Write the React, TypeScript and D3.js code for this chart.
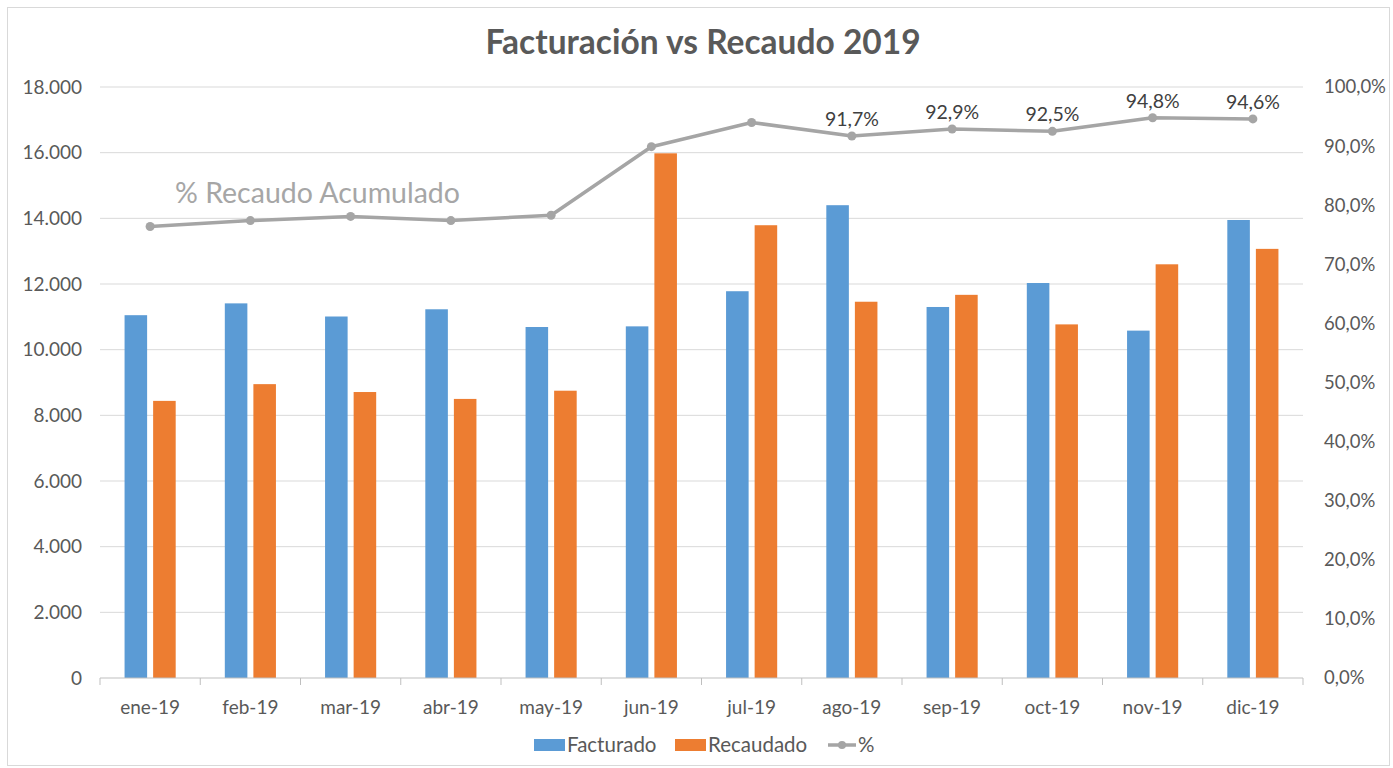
import React from "react";
import * as d3 from "d3";

const months = ["ene-19","feb-19","mar-19","abr-19","may-19","jun-19","jul-19","ago-19","sep-19","oct-19","nov-19","dic-19"];
const facturado = [11050, 11410, 11010, 11230, 10690, 10710, 11780, 14400, 11300, 12030, 10580, 13950];
const recaudado = [8440, 8950, 8710, 8500, 8750, 15980, 13790, 11460, 11670, 10770, 12600, 13070];
const pct = [76.4, 77.4, 78.1, 77.4, 78.3, 89.9, 94.0, 91.7, 92.9, 92.5, 94.8, 94.6];
const pctLabels = ["", "", "", "", "", "", "", "91,7%", "92,9%", "92,5%", "94,8%", "94,6%"];
const leftTicks = [0, 2000, 4000, 6000, 8000, 10000, 12000, 14000, 16000, 18000];
const rightTicks = [0, 10, 20, 30, 40, 50, 60, 70, 80, 90, 100];

const FONT = "Lato, 'Open Sans', sans-serif";
const TXT = "#595959";

export default function App() {
  const W = 1393, H = 768;
  const x0 = 100, x1 = 1303, yTop = 87, yBot = 678;
  const x = d3.scaleBand<string>().domain(months).range([x0, x1]).paddingInner(0).paddingOuter(0);
  const yL = d3.scaleLinear().domain([0, 18000]).range([yBot, yTop]);
  const yR = d3.scaleLinear().domain([0, 100]).range([yBot, yTop]);
  const step = x.step();
  const bw = step * 0.225;
  const gap = step * 0.06;
  const fmtL = (v: number) => v === 0 ? "0" : d3.format(",")(v).replace(/,/g, ".");
  const fmtR = (v: number) => v.toFixed(1).replace(".", ",") + "%";
  const cx = (m: string) => (x(m) as number) + step / 2;
  const line = d3.line<number>().x((_, i) => cx(months[i])).y(d => yR(d));

  return (
    <svg width={W} height={H} style={{ position: "absolute", left: 0, top: 0, background: "#fff" }} fontFamily={FONT}>
      <rect x={7.5} y={7.5} width={1382} height={758} fill="#fff" stroke="#d9d9d9" strokeWidth={1} />
      <text x={703} y={54} textAnchor="middle" fontSize={33.5} fontWeight="bold" fill={TXT}>Facturación vs Recaudo 2019</text>

      {leftTicks.map(t => (
        <g key={"g" + t}>
          {t > 0 && <line x1={x0} x2={x1} y1={yL(t)} y2={yL(t)} stroke="#d9d9d9" strokeWidth={1} />}
          <text x={82} y={yL(t)} dy="0.35em" textAnchor="end" fontSize={19} fill={TXT}>{fmtL(t)}</text>
        </g>
      ))}
      {rightTicks.map(t => (
        <text key={"r" + t} x={1324} y={yR(t)} dy="0.35em" textAnchor="start" fontSize={18.5} fill={TXT}>{fmtR(t)}</text>
      ))}

      {months.map((m, i) => {
        const gx = cx(m) - (2 * bw + gap) / 2;
        return (
          <g key={m}>
            <rect x={gx} y={yL(facturado[i])} width={bw} height={yBot - yL(facturado[i])} fill="#5B9BD5" />
            <rect x={gx + bw + gap} y={yL(recaudado[i])} width={bw} height={yBot - yL(recaudado[i])} fill="#ED7D31" />
            <text x={cx(m)} y={707} dy="0.35em" textAnchor="middle" fontSize={19} fill={TXT}>{m}</text>
          </g>
        );
      })}

      <line x1={x0} x2={x1} y1={yBot} y2={yBot} stroke="#bfbfbf" strokeWidth={1} />
      {d3.range(months.length + 1).map(i => (
        <line key={"tk" + i} x1={x0 + i * step} x2={x0 + i * step} y1={yBot} y2={yBot + 7} stroke="#bfbfbf" strokeWidth={1} />
      ))}

      <path d={line(pct) || ""} fill="none" stroke="#A5A5A5" strokeWidth={3.5} strokeLinejoin="round" />
      {pct.map((p, i) => (
        <circle key={"c" + i} cx={cx(months[i])} cy={yR(p)} r={4.5} fill="#A5A5A5" />
      ))}
      {pct.map((p, i) => pctLabels[i] ? (
        <text key={"l" + i} x={cx(months[i])} y={yR(p) - 10} textAnchor="middle" fontSize={19.5} fill="#404040">{pctLabels[i]}</text>
      ) : null)}
      <text x={175} y={203} fontSize={28.5} fill="#a6a6a6">% Recaudo Acumulado</text>

      <g fontSize={20.5} fill={TXT}>
        <rect x={534} y={739} width={31} height={12} fill="#5B9BD5" />
        <text x={567} y={745} dy="0.35em">Facturado</text>
        <rect x={675} y={739} width={31} height={12} fill="#ED7D31" />
        <text x={708} y={745} dy="0.35em">Recaudado</text>
        <line x1={828} x2={856} y1={745} y2={745} stroke="#A5A5A5" strokeWidth={3.5} />
        <circle cx={842} cy={745} r={4} fill="#A5A5A5" />
        <text x={858} y={745} dy="0.35em">%</text>
      </g>
    </svg>
  );
}
